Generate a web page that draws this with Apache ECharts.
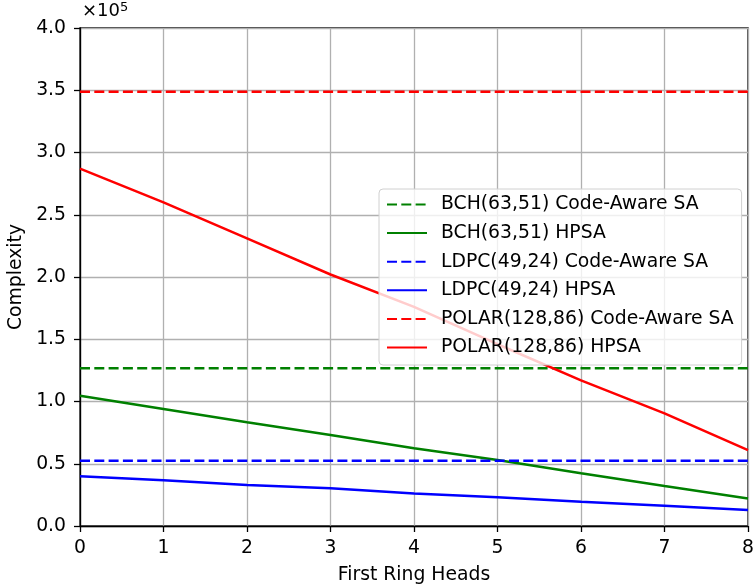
<!DOCTYPE html>
<html>
<head>
<meta charset="utf-8">
<script src="https://cdn.jsdelivr.net/npm/echarts@6/dist/echarts.min.js"></script>
<style>
	html, body { margin: 0; padding: 0; background: #fff; }
	#chart { width: 753px; height: 587px; }
</style>
</head>
<body>
<div id="chart"></div>
<script>
	// DADOS
	var heads = [0, 1, 2, 3, 4, 5, 6, 7, 8];
	var bchSA = [126700, 126700, 126700, 126700, 126700, 126700, 126700, 126700, 126700];
	var bchHPSA = [104700, 94000, 83300, 73100, 62400, 53000, 42300, 32100, 22000];
	var ldpcSA = [52500, 52500, 52500, 52500, 52500, 52500, 52500, 52500, 52500];
	var ldpcHPSA = [39900, 36700, 32900, 30300, 26200, 23000, 19500, 16300, 12800];
	var polarSA = [348800, 348800, 348800, 348800, 348800, 348800, 348800, 348800, 348800];
	var polarHPSA = [287000, 260000, 231000, 202000, 176000, 146000, 117000, 90500, 61000];

	var fonte = 'DejaVu Sans';
	var tam = 18.8;
	var tracejado = [10, 4.3];

	// monta os pares x,y
	var pares = function(val){
		return heads.map(function(h, i){ return [h, val[i]]; });
	}

	var serie = function(nome, cor, val, dash){
		return {
			name: nome,
			type: 'line',
			data: pares(val),
			symbol: 'none',
			showSymbol: false,
			silent: true,
			animation: false,
			lineStyle: { color: cor, width: 2.5, type: dash ? tracejado : 'solid' },
			itemStyle: { color: cor }
		};
	}

	var myChart = echarts.init(document.getElementById('chart'));

	var option = {
		backgroundColor: '#fff',
		animation: false,
		grid: {
			left: 80, right: 5, top: 28, bottom: 61,
			containLabel: false,
			outerBoundsMode: 'none',
			show: true, borderColor: '#000', borderWidth: 1.3
		},
		xAxis: {
			type: 'value',
			min: 0, max: 8, interval: 1,
			name: 'First Ring Heads',
			nameLocation: 'middle',
			nameGap: 39.5,
			nameTextStyle: { fontFamily: fonte, fontSize: tam, color: '#000' },
			axisLine: { show: true, lineStyle: { color: '#000', width: 1.3 } },
			axisTick: { show: true, inside: false, length: 6, lineStyle: { color: '#000', width: 1.3 } },
			axisLabel: { fontFamily: fonte, fontSize: tam, color: '#000', margin: 13 },
			splitLine: { show: true, lineStyle: { color: '#b0b0b0', width: 1.3 } }
		},
		yAxis: {
			type: 'value',
			min: 0, max: 400000, interval: 50000,
			name: 'Complexity',
			nameLocation: 'middle',
			nameGap: 51.5,
			nameRotate: 90,
			nameTextStyle: { fontFamily: fonte, fontSize: tam, color: '#000' },
			axisLine: { show: true, lineStyle: { color: '#000', width: 1.3 } },
			axisTick: { show: true, inside: false, length: 6, lineStyle: { color: '#000', width: 1.3 } },
			axisLabel: {
				fontFamily: fonte, fontSize: tam, color: '#000', margin: 14,
				formatter: function(v){ return (v / 100000).toFixed(1); }
			},
			splitLine: { show: true, lineStyle: { color: '#b0b0b0', width: 1.3 } }
		},
		legend: {
			orient: 'vertical',
			left: 379, top: 189,
			itemWidth: 40, itemHeight: 18.8, itemGap: 9.6,
			padding: [6, 8, 8, 7],
			backgroundColor: 'rgba(255,255,255,0.8)',
			borderColor: '#d0d0d0', borderWidth: 1, borderRadius: 4,
			itemStyle: { opacity: 0, borderWidth: 0 },
			textStyle: { fontFamily: fonte, fontSize: tam, color: '#000', padding: [0, 0, 0, 9] },
			data: [
				'BCH(63,51) Code-Aware SA', 'BCH(63,51) HPSA',
				'LDPC(49,24) Code-Aware SA', 'LDPC(49,24) HPSA',
				'POLAR(128,86) Code-Aware SA', 'POLAR(128,86) HPSA'
			]
		},
		graphic: [
			{
				type: 'text', left: 82, top: 1,
				style: {
					text: '{a|×10}{b|5}',
					rich: {
						a: { fontFamily: fonte, fontSize: 18, fill: '#000' },
						b: { fontFamily: fonte, fontSize: 13, fill: '#000', verticalAlign: 'top', padding: [0, 0, 8, 0] }
					}
				}
			}
		],
		series: [
			serie('BCH(63,51) Code-Aware SA', '#008000', bchSA, true),
			serie('BCH(63,51) HPSA', '#008000', bchHPSA, false),
			serie('LDPC(49,24) Code-Aware SA', '#0000ff', ldpcSA, true),
			serie('LDPC(49,24) HPSA', '#0000ff', ldpcHPSA, false),
			serie('POLAR(128,86) Code-Aware SA', '#ff0000', polarSA, true),
			serie('POLAR(128,86) HPSA', '#ff0000', polarHPSA, false)
		]
	};
	// aplico as alterações de layout no chart
	myChart.setOption(option);
</script>
</body>
</html>
